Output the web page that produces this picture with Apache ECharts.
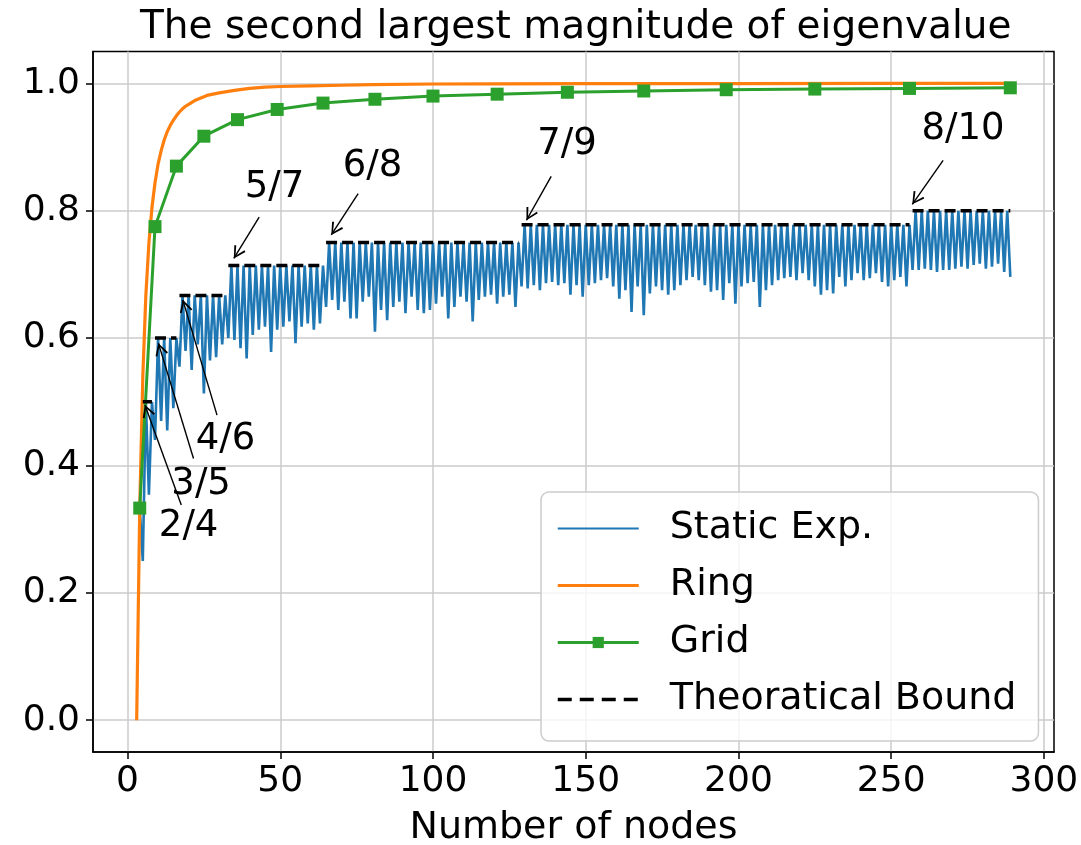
<!DOCTYPE html>
<html>
<head>
<meta charset="utf-8">
<title>The second largest magnitude of eigenvalue</title>
<style>
    html, body { margin: 0; padding: 0; background: #fff; }
    #main { width: 1081px; height: 845px; }
</style>
</head>
<body>
<div id="main"></div>
<script src="https://cdn.jsdelivr.net/npm/echarts@6/dist/echarts.min.js"></script>
<script>
    // static exponential graph, one value per node count, starting at n = 4
    var staticStart = 4;
    var staticExp = [
        0.333, 0.25, 0.5, 0.354, 0.5, 0.44, 0.6, 0.47, 0.6, 0.455, 0.6, 0.49, 0.6,
        // 17..32
        0.555, 0.667, 0.58, 0.667, 0.55, 0.667, 0.59, 0.667, 0.513, 0.667, 0.565, 0.667, 0.57, 0.667, 0.59, 0.667,
        // 33..64
        0.60, 0.714, 0.597, 0.714, 0.584, 0.714, 0.568, 0.714, 0.605, 0.714, 0.613, 0.714, 0.618, 0.714, 0.578, 0.714,
        0.613, 0.714, 0.618, 0.714, 0.626, 0.714, 0.592, 0.714, 0.618, 0.714, 0.623, 0.714, 0.613, 0.714, 0.623, 0.714,
        // 65..128
        0.649, 0.75, 0.660, 0.75, 0.644, 0.75, 0.657, 0.75, 0.631, 0.75, 0.631, 0.75, 0.657, 0.75, 0.665, 0.75,
        0.610, 0.75, 0.644, 0.75, 0.628, 0.75, 0.649, 0.75, 0.657, 0.75, 0.639, 0.75, 0.665, 0.75, 0.644, 0.75,
        0.639, 0.75, 0.644, 0.75, 0.654, 0.75, 0.665, 0.75, 0.631, 0.75, 0.649, 0.75, 0.665, 0.75, 0.657, 0.75,
        0.626, 0.75, 0.660, 0.75, 0.665, 0.75, 0.668, 0.75, 0.654, 0.75, 0.665, 0.75, 0.668, 0.75, 0.649, 0.75,
        // 129..256
        0.681, 0.778, 0.678, 0.778, 0.683, 0.778, 0.675, 0.778, 0.686, 0.778, 0.688, 0.778, 0.683, 0.778, 0.686, 0.778,
        0.668, 0.778, 0.683, 0.778, 0.665, 0.778, 0.683, 0.778, 0.686, 0.778, 0.691, 0.778, 0.694, 0.778, 0.681, 0.778,
        0.662, 0.778, 0.675, 0.778, 0.641, 0.778, 0.681, 0.778, 0.636, 0.778, 0.670, 0.778, 0.681, 0.778, 0.675, 0.778,
        0.668, 0.778, 0.675, 0.778, 0.683, 0.778, 0.691, 0.778, 0.696, 0.778, 0.691, 0.778, 0.683, 0.778, 0.673, 0.778,
        0.675, 0.778, 0.660, 0.778, 0.686, 0.778, 0.654, 0.778, 0.681, 0.778, 0.686, 0.778, 0.688, 0.778, 0.649, 0.778,
        0.675, 0.778, 0.683, 0.778, 0.691, 0.778, 0.694, 0.778, 0.696, 0.778, 0.691, 0.778, 0.702, 0.778, 0.691, 0.778,
        0.681, 0.778, 0.668, 0.778, 0.675, 0.778, 0.670, 0.778, 0.696, 0.778, 0.681, 0.778, 0.691, 0.778, 0.702, 0.778,
        0.691, 0.778, 0.694, 0.778, 0.702, 0.778, 0.688, 0.778, 0.681, 0.778, 0.691, 0.778, 0.696, 0.778, 0.681, 0.778,
        // 257..289
        0.707, 0.8, 0.707, 0.8, 0.709, 0.8, 0.707, 0.8, 0.704, 0.8, 0.707, 0.8, 0.707, 0.8, 0.709, 0.8,
        0.712, 0.8, 0.709, 0.8, 0.715, 0.8, 0.717, 0.8, 0.709, 0.8, 0.712, 0.8, 0.717, 0.8, 0.704, 0.8,
        0.696
    ];

    var ringNodes = [3, 4, 5, 6, 7, 8, 9, 10, 11, 12, 13, 14, 15, 16, 17, 18, 19, 20, 22, 24, 26, 28, 30,
        35, 40, 45, 50, 60, 70, 80, 100, 120, 150, 200, 250, 289];
    var ringValues = [0, 0.333, 0.539, 0.667, 0.749, 0.805, 0.844, 0.873, 0.894, 0.911, 0.924, 0.934, 0.942,
        0.949, 0.955, 0.960, 0.964, 0.967, 0.973, 0.977, 0.981, 0.983, 0.985,
        0.989, 0.992, 0.994, 0.995, 0.996, 0.997, 0.998, 0.999, 0.9991, 0.9994, 0.9997, 0.9998, 0.9998];

    var gridNodes = [4, 9, 16, 25, 36, 49, 64, 81, 100, 121, 144, 169, 196, 225, 256, 289];
    var gridValues = [0.333, 0.775, 0.870, 0.917, 0.943, 0.959, 0.969, 0.975, 0.980, 0.983,
        0.986, 0.988, 0.990, 0.991, 0.992, 0.993];

    var boundStart = [5, 9, 17, 33, 65, 129, 257];
    var boundEnd = [8, 16, 32, 64, 128, 256, 289];
    var boundValue = [0.5, 0.6, 0.667, 0.714, 0.75, 0.778, 0.8];

    var annLabels = ['2/4', '3/5', '4/6', '5/7', '6/8', '7/9', '8/10'];
    var annText = [[20.0, 0.305], [24.1, 0.371], [32.1, 0.441], [48.1, 0.836], [80.2, 0.870], [143.9, 0.904], [273.5, 0.927]];
    var annTail = [[17.6, 0.338], [21.6, 0.411], [29.3, 0.479], [43.1, 0.790], [75.5, 0.827], [138.7, 0.854], [267, 0.879]];
    var annTip = [[5.7, 0.495], [10.1, 0.592], [18.1, 0.660], [34.8, 0.725], [66.7, 0.762], [130.6, 0.785], [256.9, 0.81]];

    var xTicks = [0, 50, 100, 150, 200, 250, 300];
    var yTicks = [0, 0.2, 0.4, 0.6, 0.8, 1.0];

    var FONT = 'DejaVu Sans';

    var staticData = staticExp.map(function (v, i) { return [staticStart + i, v]; });
    var ringData = ringNodes.map(function (n, i) { return [n, ringValues[i]]; });
    var gridData = gridNodes.map(function (n, i) { return [n, gridValues[i]]; });
    var boundData = [];
    for (var b = 0; b < boundStart.length; b++) {
        if (b > 0) boundData.push([boundStart[b] - 0.5, null]);
        boundData.push([boundStart[b], boundValue[b]]);
        boundData.push([boundEnd[b], boundValue[b]]);
    }
    var annData = annLabels.map(function (t, i) { return { name: t, value: annText[i] }; });
    var arrowData = annLabels.map(function (t, i) {
        return [{ coord: annTail[i] }, { coord: annTip[i] }];
    });
    // open "->" head, tip sits at the centre of the symbol box
    var arrowHead = 'path://M5,0 L10,9 L8.7,9.7 L5,2.5 L1.3,9.7 L0,9 Z M5,-9.7';

    // no marker in the legend for the plain lines
    var noMark = { opacity: 0 };

    var myChart = echarts.init(document.getElementById('main'));
    myChart.setOption({
        animation: false,
        backgroundColor: '#fff',
        title: {
            text: 'The second largest magnitude of eigenvalue',
            left: 140,
            top: 8,
            padding: 0,
            textStyle: { fontFamily: FONT, fontSize: 39, fontWeight: 'normal', color: '#000' }
        },
        grid: {
            left: 93, right: 27, top: 51.5, bottom: 93,
            outerBoundsMode: 'none',
            containLabel: false,
            show: true, borderColor: '#000', borderWidth: 1.5, backgroundColor: 'transparent'
        },
        legend: {
            data: [
                { name: 'Static Exp.', itemStyle: noMark, lineStyle: { width: 2.2 } },
                { name: 'Ring', itemStyle: noMark, lineStyle: { width: 3.2 } },
                { name: 'Grid', lineStyle: { width: 3.2 } },
                { name: 'Theoratical Bound', itemStyle: noMark, lineStyle: { width: 3.5, type: [14, 8] } }
            ],
            orient: 'vertical',
            left: 541,
            top: 492,
            padding: [14, 22, 19, 15],
            itemGap: 12,
            itemWidth: 81,
            itemHeight: 14,
            backgroundColor: 'rgba(255,255,255,0.8)',
            borderColor: '#cccccc',
            borderWidth: 1.5,
            borderRadius: 8,
            textStyle: { fontFamily: FONT, fontSize: 38, color: '#000', lineHeight: 45, padding: [0, 0, 0, 26] }
        },
        xAxis: {
            type: 'value',
            min: -11.3,
            max: 303.3,
            name: 'Number of nodes',
            nameLocation: 'middle',
            nameGap: 57,
            nameTextStyle: { fontFamily: FONT, fontSize: 38, color: '#000' },
            axisLine: { show: true, onZero: false, lineStyle: { color: '#000', width: 1.5 } },
            axisTick: { show: true, length: 7, customValues: xTicks, lineStyle: { color: '#000', width: 1.5 } },
            axisLabel: { customValues: xTicks, margin: 12, fontFamily: FONT, fontSize: 36, color: '#000' },
            splitLine: { show: true, lineStyle: { color: '#cbcbcb', width: 1.5 } }
        },
        yAxis: {
            type: 'value',
            min: -0.05,
            max: 1.05,
            axisLine: { show: true, onZero: false, lineStyle: { color: '#000', width: 1.5 } },
            axisTick: { show: true, length: 7, customValues: yTicks, lineStyle: { color: '#000', width: 1.5 } },
            axisLabel: {
                customValues: yTicks, margin: 13, fontFamily: FONT, fontSize: 36, color: '#000',
                formatter: function (v) { return v.toFixed(1); }
            },
            splitLine: { show: true, lineStyle: { color: '#cbcbcb', width: 1.5 } }
        },
        series: [
            {
                name: 'Static Exp.',
                type: 'line',
                data: staticData,
                symbol: 'none',
                lineStyle: { color: '#1f77b4', width: 2.6 },
                itemStyle: { color: '#1f77b4' }
            },
            {
                name: 'Ring',
                type: 'line',
                data: ringData,
                symbol: 'none',
                lineStyle: { color: '#ff7f0e', width: 3.2 },
                itemStyle: { color: '#ff7f0e' }
            },
            {
                name: 'Grid',
                type: 'line',
                data: gridData,
                symbol: 'rect',
                symbolSize: 13,
                lineStyle: { color: '#2ca02c', width: 3 },
                itemStyle: { color: '#2ca02c' }
            },
            {
                name: 'Theoratical Bound',
                type: 'line',
                data: boundData,
                connectNulls: false,
                symbol: 'none',
                lineStyle: { color: '#000', width: 3.5, type: [11, 5] },
                itemStyle: { color: '#000' }
            },
            {
                name: 'annotations',
                type: 'scatter',
                data: annData,
                symbolSize: 1,
                itemStyle: { color: 'rgba(0,0,0,0)', opacity: 1 },
                label: {
                    show: true, position: 'inside', formatter: '{b}', opacity: 1,
                    fontFamily: FONT, fontSize: 37, color: '#000'
                },
                markLine: {
                    silent: true,
                    symbol: ['none', arrowHead],
                    symbolSize: [13, 25],
                    label: { show: false },
                    lineStyle: { color: '#000', width: 1.4, type: 'solid', opacity: 1 },
                    itemStyle: { color: '#000' },
                    data: arrowData
                }
            }
        ]
    });
</script>
</body>
</html>
